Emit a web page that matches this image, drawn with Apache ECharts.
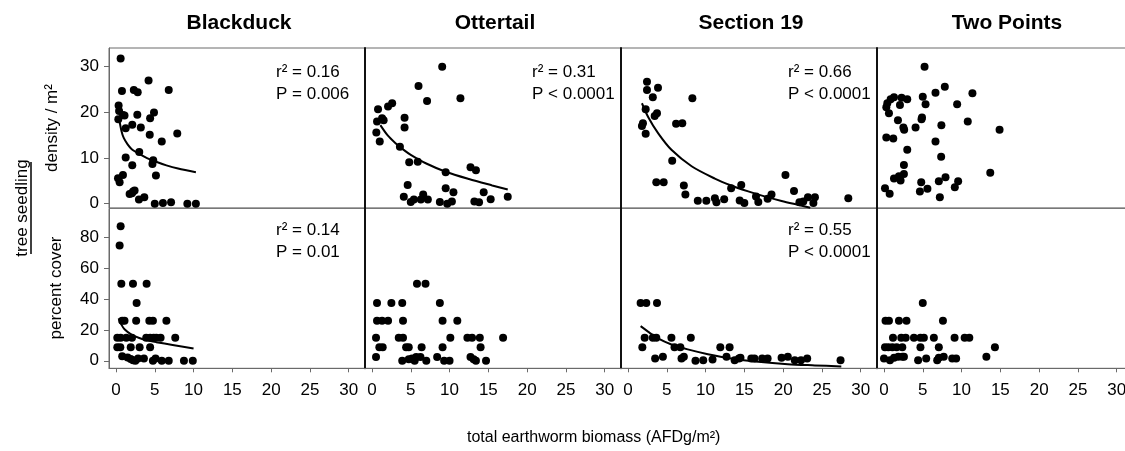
<!DOCTYPE html>
<html>
<head>
<meta charset="utf-8">
<script src="https://cdn.jsdelivr.net/npm/echarts@6/dist/echarts.min.js"></script>
<style>html,body{margin:0;padding:0;background:#fff}#c{width:1125px;height:451px}</style>
</head>
<body>
<div id="c"></div>
<script>
// ---------- data ----------
const sites = ['Blackduck', 'Ottertail', 'Section 19', 'Two Points'];
const xTicks = [0, 5, 10, 15, 20, 25, 30];
const densityTicks = [0, 10, 20, 30];
const coverTicks = [0, 20, 40, 60, 80];
const xTitle = 'total earthworm biomass (AFDg/m²)';
const yTitleGroup = 'tree seedling';
const yTitleDensity = 'density / m²';
const yTitleCover = 'percent cover';

const blackduckDensity = [[0.6,31.8],[0.77,24.7],[2.3,24.9],[2.8,24.4],[4.2,27.0],[6.8,24.9],
  [0.34,21.5],[0.4,20.3],[0.9,19.4],[1.1,19.3],[0.3,18.5],
  [2.75,19.5],[2.1,17.3],[1.25,16.5],[3.2,16.7],[4.4,18.7],[4.9,20.0],
  [4.35,15.1],[5.9,13.6],[7.9,15.4],[3.0,11.3],[1.25,10.1],[2.1,8.4],[4.8,9.5],[4.7,8.7],[5.15,6.2],
  [0.9,6.3],[0.26,5.6],[0.47,4.7],[1.76,2.1],[2.2,2.7],[2.4,2.9],[2.06,2.3],[2.96,0.9],[3.65,1.4],
  [5.0,0.0],[6.05,0.15],[7.1,0.3],[9.2,0],[10.3,0]];
const ottertailDensity = [[9.05,30.0],[6.0,25.8],[7.1,22.5],[11.4,23.1],[0.78,20.7],[2.07,21.3],[2.6,22.0],
  [1.3,18.7],[0.65,18.0],[1.5,18.3],[4.2,18.8],[4.2,16.7],[0.56,15.6],[1.0,13.6],[3.6,12.5],
  [4.8,9.1],[5.9,9.2],[9.5,6.9],[12.7,8.0],[13.4,7.3],[4.6,4.1],[4.1,1.5],[5.0,0.4],[5.4,0.9],
  [6.6,2.0],[6.3,0.9],[7.2,0.9],[8.75,0.4],[9.7,0],[10.3,0.5],[9.5,3.4],[10.5,2.5],[13.2,0.5],
  [13.8,0.3],[14.4,2.5],[15.3,1.0],[17.5,1.5]];
const section19Density = [[2.45,26.7],[2.45,24.9],[3.87,25.4],[3.2,23.3],[8.3,23.1],[2.28,20.7],
  [3.44,19.2],[3.74,19.8],[1.93,17.6],[1.8,17.0],[2.28,15.3],[6.2,17.5],[7.0,17.6],[5.7,9.4],
  [3.65,4.7],[4.6,4.7],[7.2,4.0],[7.4,2.0],[9.0,0.65],[10.1,0.65],[11.2,1.2],[11.4,0.3],[12.4,1.0],
  [13.3,3.4],[14.6,4.1],[14.4,0.7],[15.0,0.15],[16.5,1.6],[16.8,0.36],[18.0,1.1],[18.5,2.0],
  [20.3,6.3],[21.4,2.8],[22.1,0.3],[22.6,0.5],[23.2,1.4],[24.1,1.4],[23.9,0.15],[28.4,1.2]];
const twoPointsDensity = [[5.23,30.0],[7.84,25.6],[6.64,24.3],[11.4,24.2],[5.0,23.4],[5.36,21.8],
  [9.43,21.8],[1.29,23.3],[2.27,23.2],[3.0,22.9],[0.43,22.0],[0.86,22.9],[0.3,21.1],[0.64,19.8],
  [2.06,21.6],[1.8,18.3],[2.5,16.7],[2.6,16.2],[4.07,16.7],[4.84,18.5],[4.9,18.9],[7.4,17.2],
  [10.8,18.0],[14.9,16.2],[0.3,14.5],[1.2,14.3],[6.64,13.6],[3.0,11.8],[7.37,10.3],[2.57,8.5],
  [1.29,5.5],[1.93,6.0],[2.57,6.5],[2.14,5.1],[13.7,6.8],[0.13,3.4],[0.73,2.2],[4.8,4.7],
  [4.63,2.7],[5.6,3.3],[7.07,4.9],[7.93,5.8],[7.2,1.4],[9.13,3.6],[9.56,4.9]];

const blackduckCover = [[0.6,87.5],[0.47,75],[0.69,50],[2.19,50],[3.95,50],[2.66,37.5],
  [0.8,26],[1.1,26],[2.6,26],[4.3,26],[4.76,26],[6.5,26],
  [0.17,15],[0.6,15],[1.33,15],[2.06,15],[3.9,15],[4.4,15],[4.85,15],[5.2,15],[5.75,15],[7.64,15],
  [0.17,8.75],[0.56,8.75],[1.9,8.75],[3.05,8.75],[4.4,8.75],
  [0.8,3],[1.5,2.2],[1.9,1.1],[2.2,0.4],[2.5,0],[2.85,1.5],[3.6,1.5],[4.76,0],[5.1,1.5],[5.9,0],
  [6.8,0],[8.76,0],[9.9,0]];
const ottertailCover = [[0.65,37.5],[2.5,37.5],[3.9,37.5],[8.75,37.5],[5.8,50],[6.9,50],
  [0.65,26],[1.3,26],[2.07,26],[4.0,26],[9.1,26],[11.0,26],
  [0.52,15],[3.45,15],[4.0,15],[10.1,15],[12.3,15],[12.9,15],[13.9,15],[16.9,15],
  [0.95,8.75],[1.38,8.75],[4.4,8.75],[4.74,8.75],[6.4,8.75],[9.1,8.75],[14.0,8.75],
  [0.52,2.5],[8.4,2.5],[12.7,2.5],
  [3.9,0],[4.74,1],[5.17,1.5],[5.7,2.5],[6.25,2.5],[5.5,0],[7.0,0],[9.3,0],[10.0,0],[13.1,1],
  [13.4,0],[14.7,0]];
const section19Cover = [[1.63,37.5],[2.36,37.5],[3.74,37.5],
  [2.15,15],[3.2,15],[3.65,15],[5.6,15],[8.1,15],
  [1.85,8.75],[6.0,8.75],[6.75,8.75],[11.9,8.75],[13.1,8.75],
  [4.5,2.6],[7.2,2.6],[12.7,2.6],[19.8,2],[20.6,2.6],
  [3.5,1.5],[6.9,1.5],[8.7,0],[9.7,0.4],[10.9,0.9],[13.75,0.4],[14.3,1.5],[14.5,2],[15.9,1.5],
  [16.3,1.5],[17.3,1.5],[18,1.5],[21.5,0.4],[22.3,0.4],[23.1,1.5],[27.4,0.4]];
const twoPointsCover = [[5.0,37.5],
  [0.2,26],[0.64,26],[1.93,26],[2.9,26],[7.6,26],
  [1.16,15],[2.23,15],[2.8,15],[3.86,15],[4.7,15],[5.14,15],[6.43,15],[9.1,15],[10.4,15],[11.0,15],
  [0.13,8.75],[0.56,8.75],[1.07,8.75],[1.63,8.75],[2.36,8.75],[4.7,8.75],[7.07,8.75],[14.3,8.75],
  [0,1.5],[0.77,0.4],[1.3,1.9],[1.84,2.6],[2.36,2.6],[2.57,2.6],[4.4,0.4],[5.44,1.5],[6.86,0.4],
  [7.07,1.9],[7.7,2.6],[8.8,1.5],[9.3,1.5],[13.2,2.6]];

// fitted curves
const blackduckDensityFit = [[0.4,18.6],[0.7,16.0],[1,14.4],[1.5,13.0],[2,12.0],[3,10.9],[4,10.0],[5,9.3],[6.5,8.4],[8,7.7],[10.3,6.9]];
const ottertailDensityFit = [[1.08,17.2],[2,15.0],[3,13.3],[4,11.9],[5,10.7],[7,8.8],[9.5,7.0],[12.5,5.4],[15.5,4.0],[17.5,3.1]];
const section19DensityFit = [[1.8,22.0],[2.6,19.0],[3.9,15.4],[5.6,11.8],[8.2,8.2],[11.2,5.5],[13.3,4.0],[15.5,2.7],[17.6,1.6],[19.8,0.6],[22.3,-0.4],[23.5,-0.9]];
const blackduckCoverFit = [[0.34,27.5],[0.7,23.5],[1.1,20.5],[2,17],[3,14.8],[4,13.3],[5.2,12.1],[7.3,10.3],[10,8.0]];
const section19CoverFit = [[1.63,22.5],[2.58,18.9],[3.87,14.5],[5.6,10.6],[7.7,7.4],[10.3,4.3],[13.3,1.5],[16.8,-0.65],[20.6,-2.2],[24.1,-3.0],[27.5,-3.7]];

const densityStats = [['0.16', '= 0.006'], ['0.31', '< 0.0001'], ['0.66', '< 0.0001'], null];
const coverStats = [['0.14', '= 0.01'], null, ['0.55', '< 0.0001'], null];

const densityData = [blackduckDensity, ottertailDensity, section19Density, twoPointsDensity];
const coverData = [blackduckCover, ottertailCover, section19Cover, twoPointsCover];
const densityFits = [blackduckDensityFit, ottertailDensityFit, section19DensityFit, null];
const coverFits = [blackduckCoverFit, null, section19CoverFit, null];

// ---------- layout ----------
const FONT = '"Liberation Sans", Arial, Helvetica, sans-serif';
const panelLeft0 = 109, panelW = 256, rowTop = [48, 208.3], rowH = 160;
const xRange = [-0.9, 32.1];
const yRanges = [[-0.94, 34.1], [-4.9, 99.1]];
const frameGray = '#6a6a6a';

const grids = [], xAxes = [], yAxes = [], series = [], graphics = [];
for (let r = 0; r < 2; r++) {
  for (let c = 0; c < 4; c++) {
    const idx = r * 4 + c;
    const left = panelLeft0 + c * panelW;
    grids.push({left: left, top: rowTop[r], width: panelW, height: rowH, show: true,
      borderColor: frameGray, borderWidth: 1, containLabel: false, outerBoundsMode: 'none'});
    xAxes.push({type: 'value', gridIndex: idx, min: xRange[0], max: xRange[1],
      splitLine: {show: false},
      axisLine: {show: r === 1, onZero: false, lineStyle: {color: frameGray, width: 1}},
      axisTick: {show: r === 1, length: 4, customValues: xTicks, lineStyle: {color: frameGray}},
      axisLabel: {show: r === 1, customValues: xTicks, margin: 14, color: '#000', fontSize: 17, fontFamily: FONT}});
    const ticks = r === 0 ? densityTicks : coverTicks;
    yAxes.push({type: 'value', gridIndex: idx, min: yRanges[r][0], max: yRanges[r][1],
      splitLine: {show: false},
      axisLine: {show: true, onZero: false, lineStyle: {color: c === 0 ? frameGray : '#111', width: c === 0 ? 1 : 2}},
      axisTick: {show: c === 0, length: 5, customValues: ticks, lineStyle: {color: frameGray}},
      axisLabel: {show: c === 0, customValues: ticks, margin: 10, color: '#000', fontSize: 17, fontFamily: FONT}});
    const pts = r === 0 ? densityData[c] : coverData[c];
    series.push({type: 'scatter', xAxisIndex: idx, yAxisIndex: idx, data: pts, symbolSize: 8,
      itemStyle: {color: '#000', opacity: 1}, silent: true, z: 3});
    const fit = r === 0 ? densityFits[c] : coverFits[c];
    if (fit) {
      series.push({type: 'line', xAxisIndex: idx, yAxisIndex: idx, data: fit, smooth: 0.3,
        showSymbol: false, symbol: 'none',
        lineStyle: {color: '#000', width: 2}, silent: true, z: 4});
    }
    const st = r === 0 ? densityStats[c] : coverStats[c];
    if (st) {
      const ty = rowTop[r] + (r === 0 ? 27 : 25);
      graphics.push({type: 'text', left: left + 167, top: ty - 11, z: 10,
        style: {text: 'r² = ' + st[0], fill: '#000', font: '17px ' + FONT}});
      graphics.push({type: 'text', left: left + 167, top: ty + 11, z: 10,
        style: {text: 'P ' + st[1], fill: '#000', font: '17px ' + FONT}});
    }
  }
}
sites.forEach((s, c) => {
  graphics.push({type: 'text', x: panelLeft0 + c * panelW + panelW / 2 + 2, y: 23, z: 10,
    style: {text: s, fill: '#000', font: 'bold 21px ' + FONT, textAlign: 'center', textVerticalAlign: 'middle'}});
});
graphics.push({type: 'text', x: 467, y: 438, z: 10,
  style: {text: xTitle, fill: '#000', font: '16px ' + FONT, textAlign: 'left', textVerticalAlign: 'middle'}});
graphics.push({type: 'text', x: 52, y: 128, rotation: Math.PI / 2, z: 10,
  style: {text: yTitleDensity, fill: '#000', font: '17px ' + FONT, textAlign: 'center', textVerticalAlign: 'middle'}});
graphics.push({type: 'text', x: 56, y: 288, rotation: Math.PI / 2, z: 10,
  style: {text: yTitleCover, fill: '#000', font: '17px ' + FONT, textAlign: 'center', textVerticalAlign: 'middle'}});
graphics.push({type: 'text', x: 22, y: 208, rotation: Math.PI / 2, z: 10,
  style: {text: yTitleGroup, fill: '#000', font: '17px ' + FONT, textAlign: 'center', textVerticalAlign: 'middle'}});
graphics.push({type: 'line', z: 10, shape: {x1: 31, y1: 162, x2: 31, y2: 254},
  style: {stroke: '#000', lineWidth: 1.5}});

const chart = echarts.init(document.getElementById('c'), null, {renderer: 'canvas'});
chart.setOption({
  animation: false,
  backgroundColor: '#fff',
  grid: grids, xAxis: xAxes, yAxis: yAxes, series: series, graphic: graphics
});
</script>
</body>
</html>
